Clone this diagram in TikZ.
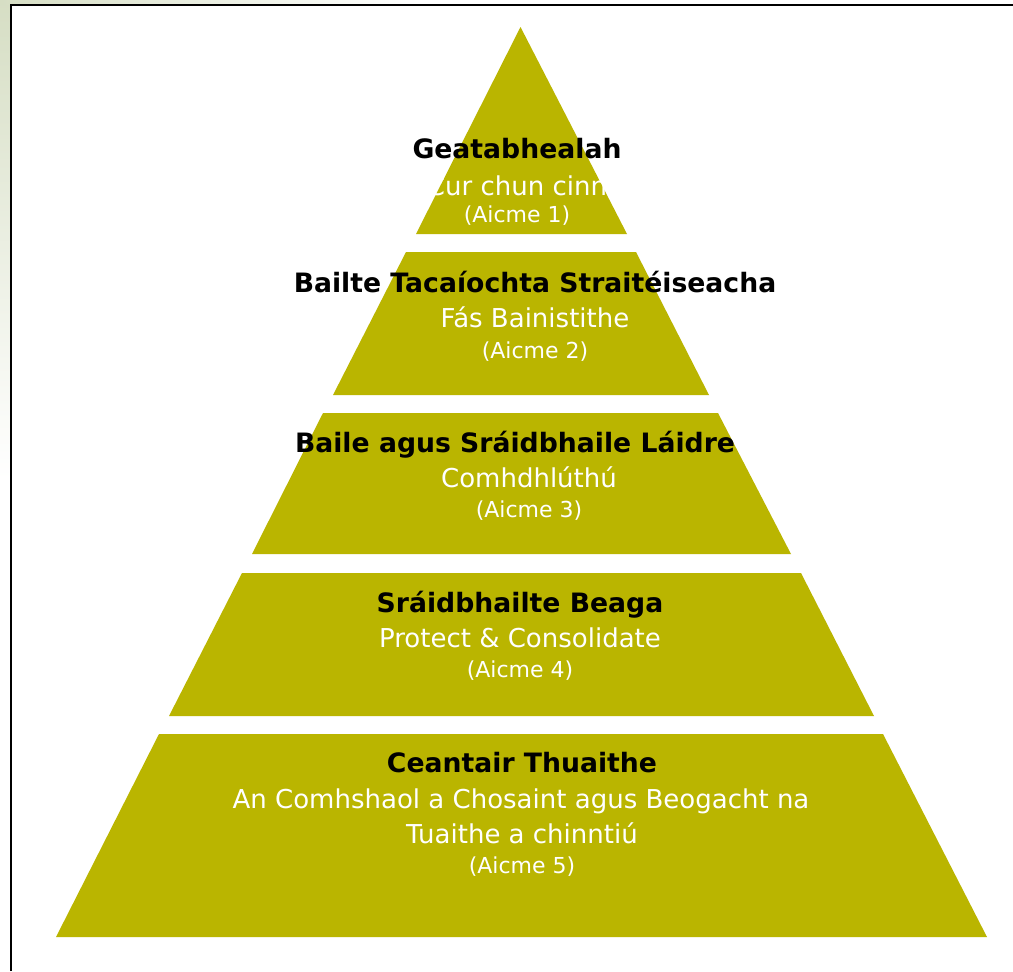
\documentclass[tikz,border=0pt]{standalone}
\usepackage{fontspec}
\setmainfont{DejaVu Sans}
\usepackage{xcolor}
\definecolor{tierolive}{RGB}{186,181,0}
\definecolor{slidegreen}{RGB}{214,222,196}

\begin{document}
\begin{tikzpicture}[x=0.75pt,y=-0.75pt,
	tier/.style={fill=tierolive},
	tiertitle/.style={anchor=base,inner sep=0pt,text=black,font=\fontsize{20}{24}\selectfont\bfseries},
	tiersub/.style={anchor=base,inner sep=0pt,text=white,font=\fontsize{19.5}{24}\selectfont},
	tierclass/.style={anchor=base,inner sep=0pt,text=white,font=\fontsize{16.5}{20}\selectfont}]
\useasboundingbox (0,0) rectangle (1013,971);
\fill[white] (0,0) rectangle (1013,971);
\shade[top color=slidegreen,bottom color=white] (0,0) rectangle (10.5,480);
\shade[left color=slidegreen,right color=white] (0,0) rectangle (420,4.5);
\draw[line width=1.5pt] (10.5,971) -- (10.5,4.5) -- (1013,4.5);
%
\fill[tier] (520.5,27) -- (627,234) -- (416,234) -- cycle;
\fill[tier] (406,252) -- (636,252) -- (709,395) -- (333,395) -- cycle;
\fill[tier] (323,413) -- (718,413) -- (791,554) -- (252,554) -- cycle;
\fill[tier] (242,573) -- (801,573) -- (874,716) -- (169,716) -- cycle;
\fill[tier] (159,734) -- (883,734) -- (987,937) -- (56,937) -- cycle;
%
\node[tiertitle] (gate) at (517,158) {Geatabhealah};
\node[tiersub] (gatesub) at (517,195) {Cur chun cinn};
\node[tierclass] (gatecls) at (517,222) {(Aicme 1)};
%
\node[tiertitle] (support) at (535,292) {Bailte Tacaíochta Straitéiseacha};
\node[tiersub] (supportsub) at (535,327) {Fás Bainistithe};
\node[tierclass] (supportcls) at (535,358) {(Aicme 2)};
%
\node[tiertitle] (strong) at (515,452) {Baile agus Sráidbhaile Láidre};
\node[tiersub] (strongsub) at (529,487) {Comhdhlúthú};
\node[tierclass] (strongcls) at (529,517) {(Aicme 3)};
%
\node[tiertitle] (small) at (520,612) {Sráidbhailte Beaga};
\node[tiersub] (smallsub) at (520,647) {Protect \& Consolidate};
\node[tierclass] (smallcls) at (520,677) {(Aicme 4)};
%
\node[tiertitle] (rural) at (522,772) {Ceantair Thuaithe};
\node[tiersub] (ruralsub) at (521,808) {An Comhshaol a Chosaint agus Beogacht na};
\node[tiersub] (ruralsubb) at (522,843) {Tuaithe a chinntiú};
\node[tierclass] (ruralcls) at (522,873) {(Aicme 5)};
\end{tikzpicture}
\end{document}
